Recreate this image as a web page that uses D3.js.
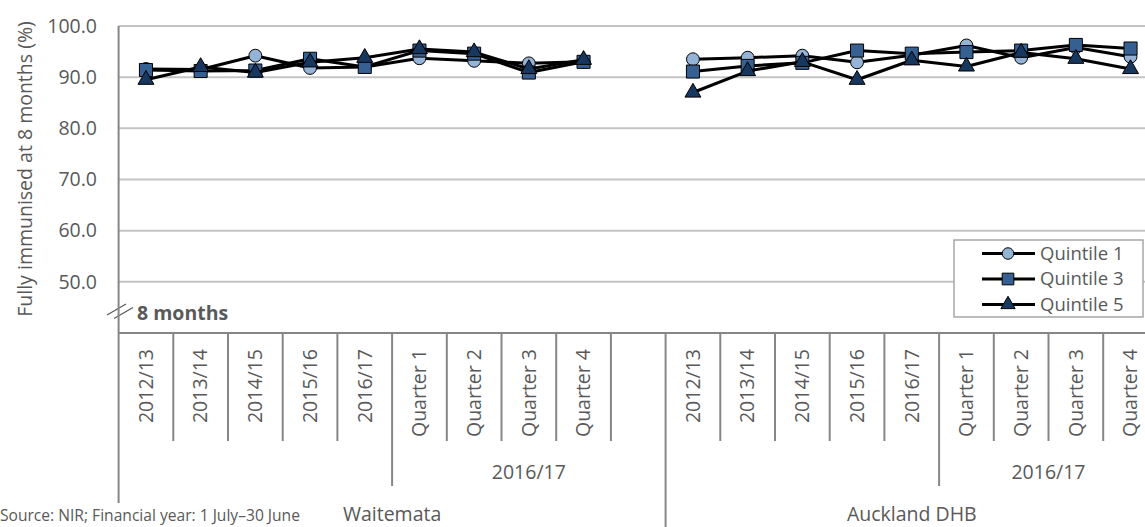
<!DOCTYPE html>
<html>
<head>
<meta charset="utf-8">
<script src="https://cdn.jsdelivr.net/npm/d3@7"></script>
<style>
  html, body { margin: 0; padding: 0; background: #fff; }
  svg { display: block; font-family: "Open Sans", "Noto Sans", sans-serif; }
</style>
</head>
<body>
<svg id="chart" width="1145" height="527"></svg>
<script>
// Fully immunised at 8 months (%), by deprivation quintile
const groups = ["Waitemata", "Auckland DHB"];
const periods = ["2012/13", "2013/14", "2014/15", "2015/16", "2016/17",
                 "Quarter 1", "Quarter 2", "Quarter 3", "Quarter 4"];
const quarterParent = "2016/17";
const yTicks = [50, 60, 70, 80, 90, 100];

const waitemataQ1 = [91.6, 91.5, 94.2, 91.8, 92.0, 93.7, 93.2, 92.7, 93.0];
const waitemataQ3 = [91.4, 91.2, 91.3, 93.6, 92.0, 95.2, 94.6, 90.9, 93.0];
const waitemataQ5 = [89.5, 92.0, 90.9, 92.9, 93.8, 95.5, 94.9, 91.6, 93.4];

const aucklandQ1 = [93.5, 93.8, 94.2, 92.9, 94.3, 96.2, 93.8, 95.8, 94.0];
const aucklandQ3 = [91.1, 92.2, 92.8, 95.2, 94.6, 94.9, 95.2, 96.3, 95.6];
const aucklandQ5 = [87.0, 91.2, 93.0, 89.5, 93.3, 92.1, 94.8, 93.6, 91.6];

const seriesNames = ["Quintile 1", "Quintile 3", "Quintile 5"];
const seriesFill = ["#95b3d7", "#376092", "#17375e"];
const seriesSymbol = [d3.symbolCircle, d3.symbolSquare, d3.symbolTriangle];
const seriesSize = [130, 170, 110];

// Category slots: Waitemata periods, one empty slot, Auckland DHB periods
const slots = [];
groups.forEach((g, gi) => {
  periods.forEach((p, pi) => slots.push({ id: gi + "-" + pi, group: g, period: p, gi, pi }));
  if (gi === 0) slots.push({ id: "gap", group: g, period: "", gi, pi: -1 });
});

const seriesData = [
  [waitemataQ1, aucklandQ1],
  [waitemataQ3, aucklandQ3],
  [waitemataQ5, aucklandQ5]
];

const svg = d3.select("#chart");
const grey = "#595959";
const fs = 19.5;
const plotLeft = 118.6, slotW = 54.7, plotTop = 26, plotBottom = 333;

const x = d3.scaleBand()
  .domain(slots.map(s => s.id))
  .range([plotLeft, plotLeft + slotW * slots.length])
  .paddingInner(0).paddingOuter(0);
const y = d3.scaleLinear().domain([40, 100]).range([plotBottom, plotTop]);

// Horizontal gridlines
svg.append("g").selectAll("line").data(yTicks).join("line")
  .attr("x1", plotLeft).attr("x2", 1145)
  .attr("y1", d => y(d)).attr("y2", d => y(d))
  .attr("stroke", "#c4c4c4").attr("stroke-width", 2);

// Y tick labels
svg.append("g").selectAll("text").data(yTicks).join("text")
  .attr("x", 97).attr("y", d => y(d))
  .attr("dy", "0.35em").attr("text-anchor", "end")
  .attr("font-size", fs).attr("fill", grey)
  .text(d => d.toFixed(1));

// Y axis title
svg.append("text")
  .attr("transform", "translate(25,169) rotate(-90)")
  .attr("text-anchor", "middle").attr("dy", "0.35em")
  .attr("font-size", fs).attr("fill", grey)
  .text("Fully immunised at 8 months (%)");

// Axis break label
svg.append("text")
  .attr("x", 137).attr("y", 313).attr("dy", "0.35em")
  .attr("font-size", 19.5).attr("font-weight", "bold").attr("fill", grey)
  .text("8 months");
svg.append("g").selectAll("line").data([0, 7]).join("line")
  .attr("x1", d => 107 + d).attr("y1", d => 315 + d * 0.5)
  .attr("x2", d => 126 + d).attr("y2", d => 304 + d * 0.5)
  .attr("stroke", grey).attr("stroke-width", 1.2);

// Category axis lines and separators
const axisColor = "#868686";
const ax = svg.append("g").attr("stroke", axisColor).attr("stroke-width", 2);
ax.append("line").attr("x1", plotLeft).attr("x2", 1145).attr("y1", plotBottom).attr("y2", plotBottom);
ax.append("line").attr("x1", plotLeft).attr("x2", plotLeft).attr("y1", plotTop).attr("y2", 503);
slots.forEach((s, i) => {
  const xr = x(s.id) + x.bandwidth();
  if (i === slots.length - 1) return;
  let y2 = 441;
  if (s.id === "gap") y2 = 527;
  else if (s.pi === 4) y2 = 486;
  ax.append("line").attr("x1", xr).attr("x2", xr).attr("y1", plotBottom).attr("y2", y2);
});

// Period labels (rotated)
svg.append("g").selectAll("text").data(slots.filter(s => s.period)).join("text")
  .attr("transform", s => `translate(${x(s.id) + x.bandwidth() / 2},349) rotate(-90)`)
  .attr("text-anchor", "end").attr("dy", "0.35em")
  .attr("font-size", fs).attr("fill", grey)
  .text(s => s.period);

// Quarter parent labels and group labels
groups.forEach((g, gi) => {
  const gs = slots.filter(s => s.group === g);
  const q = gs.filter(s => s.pi >= 5 || s.id === "gap");
  const x0 = x(q[0].id), x1 = x(q[q.length - 1].id) + x.bandwidth();
  svg.append("text").attr("x", (x0 + x1) / 2).attr("y", 472).attr("dy", "0.35em")
    .attr("text-anchor", "middle").attr("font-size", fs).attr("fill", grey)
    .text(quarterParent);
  const g0 = x(gs[0].id), g1 = x(gs[gs.length - 1].id) + x.bandwidth();
  svg.append("text").attr("x", (g0 + g1) / 2).attr("y", 514).attr("dy", "0.35em")
    .attr("text-anchor", "middle").attr("font-size", fs).attr("fill", grey)
    .text(g);
});

// Source note
svg.append("rect").attr("x", 0).attr("y", 505).attr("width", 304).attr("height", 22).attr("fill", "#fff");
svg.append("text").attr("x", 0).attr("y", 516).attr("dy", "0.35em")
  .attr("font-size", 15.6).attr("fill", grey)
  .text("Source: NIR; Financial year: 1 July–30 June");

// Series lines and markers
const line = d3.line()
  .x(d => x(d.id) + x.bandwidth() / 2)
  .y(d => y(d.v));

seriesData.forEach((pair, si) => {
  const g = svg.append("g");
  pair.forEach((vals, gi) => {
    const pts = vals.map((v, pi) => ({ id: gi + "-" + pi, v }));
    g.append("path").datum(pts).attr("d", line)
      .attr("fill", "none").attr("stroke", "#000").attr("stroke-width", 3)
      .attr("stroke-linejoin", "round");
    g.selectAll(null).data(pts).join("path")
      .attr("transform", d => `translate(${x(d.id) + x.bandwidth() / 2},${y(d.v)})`)
      .attr("d", d3.symbol().type(seriesSymbol[si]).size(seriesSize[si]))
      .attr("fill", seriesFill[si]).attr("stroke", "#000").attr("stroke-width", 1);
  });
});

// Legend
const lg = svg.append("g");
lg.append("rect").attr("x", 954).attr("y", 240).attr("width", 189).attr("height", 77)
  .attr("fill", "#fff").attr("stroke", "#a6a6a6").attr("stroke-width", 1.5);
seriesNames.forEach((name, i) => {
  const ly = 253.5 + i * 25.5;
  lg.append("line").attr("x1", 982).attr("x2", 1035).attr("y1", ly).attr("y2", ly)
    .attr("stroke", "#000").attr("stroke-width", 3);
  lg.append("path").attr("transform", `translate(1008,${ly})`)
    .attr("d", d3.symbol().type(seriesSymbol[i]).size(seriesSize[i] * 0.8))
    .attr("fill", seriesFill[i]).attr("stroke", "#000").attr("stroke-width", 1);
  lg.append("text").attr("x", 1040).attr("y", ly).attr("dy", "0.35em")
    .attr("font-size", 18.5).attr("fill", grey).text(name);
});
</script>
</body>
</html>
